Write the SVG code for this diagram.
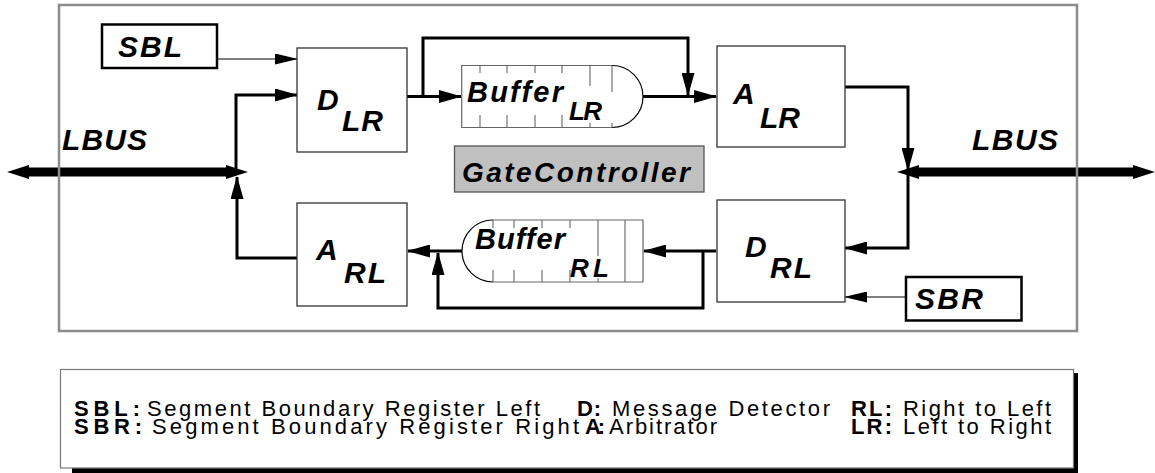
<svg xmlns="http://www.w3.org/2000/svg" width="1155" height="473" viewBox="0 0 1155 473">
  <style>
    .lbl { font-family: "Liberation Sans", Arial, Helvetica, sans-serif; font-weight: bold; font-style: italic; fill: #000; }
    .blk { fill: #fff; stroke: #333; stroke-width: 1.3; }
    .reg { fill: #fff; stroke: #000; stroke-width: 2.5; }
    .buf { fill: #fff; stroke: #666; stroke-width: 1.2; }
    .cap { fill: none; stroke: #000; stroke-width: 1.2; }
    .tick { stroke: #666; stroke-width: 1.1; fill: none; }
    .thick { fill: none; stroke: #000; stroke-width: 3; }
    .thin { fill: none; stroke: #000; stroke-width: 1.2; }
    .bus { fill: #000; }
    .leg { font-family: "Liberation Sans", Arial, Helvetica, sans-serif; font-size: 22px; fill: #000; }
    .b { font-weight: bold; }
  </style>
  <defs>
    <marker id="ah" markerUnits="userSpaceOnUse" markerWidth="23" markerHeight="13" refX="22" refY="6.5" orient="auto">
      <path d="M0,0 L23,6.5 L0,13 z" fill="#000"/>
    </marker>
    <marker id="ahs" markerUnits="userSpaceOnUse" markerWidth="23" markerHeight="11" refX="22" refY="5.5" orient="auto">
      <path d="M0,0 L23,5.5 L0,11 z" fill="#000"/>
    </marker>
  </defs>

  <rect width="1155" height="473" fill="#fff"/>

  <!-- LBUS bars -->
  <g id="lbus-left">
    <polygon class="bus" points="7,172 29,165 29,167.5 226,167.5 226,165 248,172 226,179 226,176.5 29,176.5 29,179"/>
    <text class="lbl" x="62" y="150" font-size="30" textLength="85" lengthAdjust="spacing">LBUS</text>
  </g>
  <g id="lbus-right">
    <polygon class="bus" points="897,172 919,165 919,167.5 1133,167.5 1133,165 1155,172 1133,179 1133,176.5 919,176.5 919,179"/>
    <text class="lbl" x="972" y="150" font-size="30" textLength="86" lengthAdjust="spacing">LBUS</text>
  </g>

  <!-- connectors -->
  <g id="connectors">
    <path class="thin" d="M214,59 H297" marker-end="url(#ahs)"/>
    <path class="thick" d="M236,172 V95 H297" marker-end="url(#ah)"/>
    <path class="thick" d="M297,258 H237 V177" marker-end="url(#ah)"/>
    <path class="thick" d="M407,96.5 H461" marker-end="url(#ah)"/>
    <path class="thick" d="M423,96.5 V38 H688 V95" marker-end="url(#ah)"/>
    <path class="thick" d="M643,96.5 H716" marker-end="url(#ah)"/>
    <path class="thick" d="M845,87 H908 V170" marker-end="url(#ah)"/>
    <path class="thick" d="M908,172 V248 H845" marker-end="url(#ah)"/>
    <path class="thin" d="M906,297 H845" marker-end="url(#ahs)"/>
    <path class="thick" d="M716,251 H644" marker-end="url(#ah)"/>
    <path class="thick" d="M703,251 V308 H438 V253" marker-end="url(#ah)"/>
    <path class="thick" d="M462,251 H408" marker-end="url(#ah)"/>
  </g>

  <!-- segment boundary registers -->
  <g id="sbl">
    <rect class="reg" x="102" y="24.5" width="115" height="43.5"/>
    <text class="lbl" x="118" y="57" font-size="30" textLength="64" lengthAdjust="spacing">SBL</text>
  </g>
  <g id="sbr">
    <rect class="reg" x="906" y="277" width="115.5" height="43.5"/>
    <text class="lbl" x="915" y="309" font-size="30" textLength="68" lengthAdjust="spacing">SBR</text>
  </g>

  <!-- detectors and arbitrators -->
  <g id="d-lr">
    <rect class="blk" x="297" y="48" width="110" height="104"/>
    <text class="lbl" x="317" y="110" font-size="30">D</text>
    <text class="lbl" x="342" y="131" font-size="30" textLength="41" lengthAdjust="spacing">LR</text>
  </g>
  <g id="a-rl">
    <rect class="blk" x="297" y="203" width="110" height="103"/>
    <text class="lbl" x="316" y="260" font-size="30">A</text>
    <text class="lbl" x="344" y="283" font-size="30" textLength="42" lengthAdjust="spacing">RL</text>
  </g>
  <g id="a-lr">
    <rect class="blk" x="717" y="46" width="128" height="101"/>
    <text class="lbl" x="733" y="104" font-size="30">A</text>
    <text class="lbl" x="760" y="128" font-size="30" textLength="40" lengthAdjust="spacing">LR</text>
  </g>
  <g id="d-rl">
    <rect class="blk" x="717" y="200" width="128" height="102"/>
    <text class="lbl" x="745" y="257" font-size="30">D</text>
    <text class="lbl" x="770" y="278" font-size="30" textLength="42" lengthAdjust="spacing">RL</text>
  </g>

  <!-- buffers -->
  <g id="buffer-lr">
    <path class="buf" d="M612,65.5 H461.7 V127.5 H612"/>
    <path class="cap" d="M612,65.5 A31,31 0 0 1 612,127.5"/>
    <path class="tick" d="M480,65.5 V73 M507,65.5 V73 M535,65.5 V73 M562,65.5 V73 M590,65.5 V86 M612,65.5 V92
                          M480,115 V127.5 M507,115 V127.5 M535,115 V127.5 M562,115 V127.5 M590,123 V127.5 M612,123 V127.5"/>
    <text class="lbl" x="467" y="102" font-size="29" textLength="96" lengthAdjust="spacing">Buffer</text>
    <text class="lbl" x="569" y="120" font-size="26" textLength="33" lengthAdjust="spacing">LR</text>
  </g>
  <g id="buffer-rl">
    <path class="buf" d="M493,220 H643 V282 H493"/>
    <path class="cap" d="M493,220 A31,31 0 0 0 493,282"/>
    <path class="tick" d="M493,220 V228 M514,220 V228 M542,220 V228 M570,220 V228 M598,220 V256 M625,220 V282
                          M493,270 V282 M514,270 V282 M542,270 V282 M570,270 V282 M598,278 V282"/>
    <text class="lbl" x="475" y="249" font-size="29" textLength="90" lengthAdjust="spacing">Buffer</text>
    <text class="lbl" x="570" y="277" font-size="26" textLength="39" lengthAdjust="spacing">RL</text>
  </g>

  <!-- gate controller -->
  <g id="gate-controller">
    <rect x="454.5" y="146" width="249.5" height="46" fill="#c0c0c0" stroke="#555" stroke-width="1.3"/>
    <text class="lbl" x="462" y="182" font-size="28" textLength="228" lengthAdjust="spacing">GateController</text>
  </g>

  <!-- enclosing frame -->
  <rect id="frame" x="59" y="5" width="1018" height="326" fill="none" stroke="#8c8c8c" stroke-width="2.5"/>

  <!-- legend -->
  <g id="legend">
    <path d="M1073.5,373 H1078 V474 H72 V468 H1073.5 Z" fill="#000"/>
    <rect x="60.5" y="369.5" width="1013" height="98.5" fill="#fff" stroke="#777" stroke-width="1.2"/>
    <text class="leg b" x="74" y="416" textLength="66" lengthAdjust="spacing">SBL:</text>
    <text class="leg" x="147" y="416" textLength="393" lengthAdjust="spacing">Segment Boundary Register Left</text>
    <text class="leg b" x="577" y="416" textLength="24" lengthAdjust="spacing">D:</text>
    <text class="leg" x="612" y="416" textLength="218" lengthAdjust="spacing">Message Detector</text>
    <text class="leg b" x="851" y="416" textLength="41" lengthAdjust="spacing">RL:</text>
    <text class="leg" x="903" y="416" textLength="148" lengthAdjust="spacing">Right to Left</text>
    <text class="leg b" x="74" y="434" textLength="68" lengthAdjust="spacing">SBR:</text>
    <text class="leg" x="152" y="434" textLength="427" lengthAdjust="spacing">Segment Boundary Register Right</text>
    <text class="leg b" x="585" y="434" textLength="20" lengthAdjust="spacing">A:</text>
    <text class="leg" x="609" y="434" textLength="108" lengthAdjust="spacing">Arbitrator</text>
    <text class="leg b" x="851" y="434" textLength="41" lengthAdjust="spacing">LR:</text>
    <text class="leg" x="903" y="434" textLength="148" lengthAdjust="spacing">Left to Right</text>
  </g>
</svg>
